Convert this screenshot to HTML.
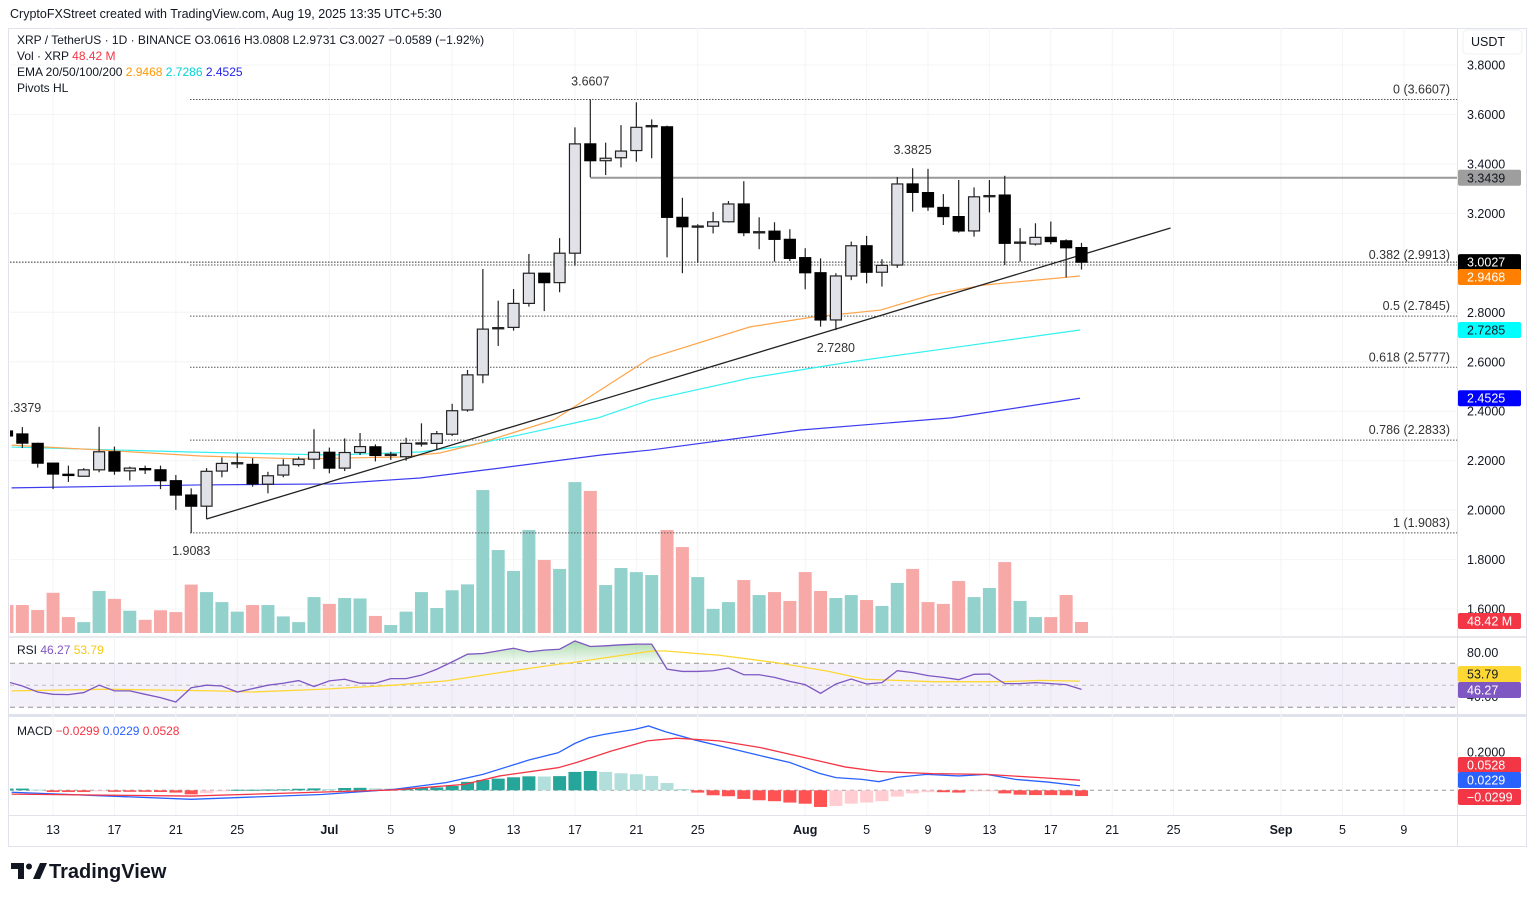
<!DOCTYPE html>
<html><head><meta charset="utf-8">
<style>
body{margin:0;background:#fff;width:1536px;height:899px;overflow:hidden;font-family:"Liberation Sans",sans-serif}
svg{display:block}
text{font-family:"Liberation Sans",sans-serif}
</style></head>
<body>
<svg id="chart" width="1536" height="899" viewBox="0 0 1536 899"></svg>
<script>
// ---- data (index 0 = Jun 10, partial candle at left edge) ----
const dateLabels = ["13","17","21","25","Jul","5","9","13","17","21","25","Aug","5","9","13","17","21","25","Sep","5","9"];
const dateIdx = [3,7,11,15,21,25,29,33,37,41,45,52,56,60,64,68,72,76,83,87,91];
const priceTicks = [3.8,3.6,3.4,3.2,3.0,2.8,2.6,2.4,2.2,2.0,1.8,1.6];
const opens = [2.32,2.308,2.270,2.190,2.145,2.137,2.163,2.236,2.159,2.168,2.163,2.119,2.061,2.016,2.158,2.19,2.185,2.105,2.142,2.184,2.206,2.234,2.17,2.233,2.256,2.224,2.216,2.27,2.27,2.307,2.405,2.547,2.735,2.739,2.836,2.958,2.92,3.039,3.481,3.413,3.425,3.454,3.552,3.55,3.184,3.146,3.148,3.166,3.238,3.124,3.128,3.095,3.021,2.96,2.769,2.947,3.069,2.962,2.991,3.319,3.284,3.224,3.187,3.129,3.27,3.274,3.082,3.076,3.103,3.089,3.0616];
const highs = [2.3379,2.336,2.273,2.19,2.18,2.17,2.337,2.257,2.176,2.18,2.18,2.142,2.088,2.17,2.213,2.23,2.21,2.155,2.206,2.216,2.327,2.253,2.29,2.312,2.266,2.236,2.293,2.351,2.32,2.43,2.567,2.975,2.847,2.894,3.036,2.958,3.10,3.548,3.6607,3.486,3.557,3.649,3.58,3.555,3.263,3.156,3.206,3.25,3.33,3.184,3.164,3.136,3.059,3.018,2.958,3.086,3.109,3.015,3.347,3.3825,3.38,3.278,3.335,3.305,3.335,3.352,3.14,3.16,3.167,3.095,3.0808];
const lows = [2.29,2.251,2.172,2.085,2.114,2.137,2.153,2.143,2.12,2.146,2.085,2.001,1.9083,1.964,2.133,2.17,2.095,2.068,2.133,2.176,2.166,2.149,2.158,2.223,2.197,2.203,2.20,2.257,2.245,2.30,2.398,2.513,2.664,2.726,2.823,2.805,2.881,2.988,3.346,3.355,3.386,3.409,3.423,3.022,2.958,3.00,3.119,3.163,3.108,3.055,3.005,3.007,2.893,2.742,2.728,2.93,2.917,2.904,2.98,3.207,3.21,3.153,3.122,3.106,3.204,2.991,3.005,3.07,3.075,2.941,2.9731];
const closes = [2.30,2.271,2.190,2.146,2.142,2.163,2.236,2.158,2.17,2.166,2.119,2.061,2.016,2.157,2.189,2.192,2.106,2.139,2.182,2.206,2.234,2.17,2.233,2.257,2.221,2.226,2.27,2.272,2.309,2.402,2.547,2.732,2.738,2.836,2.958,2.92,3.039,3.481,3.413,3.423,3.452,3.548,3.555,3.184,3.146,3.149,3.166,3.238,3.122,3.126,3.095,3.018,2.96,2.769,2.947,3.069,2.962,2.99,3.319,3.285,3.226,3.187,3.129,3.267,3.272,3.079,3.084,3.103,3.086,3.061,3.0027];
const volumes = [123,123,101,177,70,48,185,150,98,58,100,92,213,180,136,94,123,123,73,48,158,128,154,152,75,35,94,180,110,188,214,629,365,273,453,321,282,664,625,211,286,268,255,453,378,246,106,136,233,167,180,141,268,185,154,167,145,119,220,282,136,128,229,158,198,312,141,70,70,167,48.42];
const rsi = [53.3,49.4,43.9,41.8,41.5,43.4,50.1,44.9,44.9,41.8,38.8,34.8,47.8,50.1,49.4,43.9,47,50.1,51.9,54.3,48.9,54,55.5,51.9,51.9,56.1,56.1,59.2,64.6,71.3,78.3,78.9,81.3,83.7,80.4,82.0,82.8,90.3,85.3,85.9,86.8,87.4,87.4,64.7,62.6,62.6,63.2,65.7,59.6,59.6,57.2,53.6,50.6,42.7,51.2,55.7,51.2,52.4,63.3,61.5,58.8,57.2,55.1,60,60.3,51.5,51.5,52.4,51.5,50.6,46.27];
const rsiMaIdx = [0.3,6.5,13.5,16,20.5,25.2,28.6,32.1,35.9,36.8,42,42.9,46.4,50.1,53.4,55.9,60.3,65,67.3,69.9];
const rsiMa = [44.9,46.4,44.9,43.9,46.4,50.1,54,61.5,69.1,70.6,81.2,81.2,77.3,70.6,63,55.5,53.3,53.3,54.5,53.79];
const macdHist = [0.009,0.009,0.004,-0.009,-0.009,-0.009,-0.004,-0.008,-0.008,-0.008,-0.009,-0.012,-0.021,-0.015,-0.005,0.003,0.003,0.004,0.005,0.008,0.01,0.007,0.012,0.013,0.01,0.009,0.012,0.013,0.015,0.023,0.044,0.054,0.061,0.068,0.073,0.072,0.074,0.096,0.101,0.096,0.089,0.084,0.075,0.038,0.007,-0.012,-0.026,-0.031,-0.045,-0.052,-0.057,-0.064,-0.07,-0.087,-0.082,-0.07,-0.064,-0.057,-0.033,-0.016,-0.01,-0.01,-0.012,-0.005,-0.002,-0.016,-0.023,-0.025,-0.025,-0.026,-0.0299];
const macdIdx = [0.3,12,20.5,25.2,28.6,31,34,35.9,37,37.9,38.9,40.9,41.8,42.9,44.8,46.9,48.7,51,52.9,54,55.7,56.8,58,59.9,62,63.8,65.7,67.8,69.9];
const macdLine = [-0.01,-0.047,-0.022,0.005,0.04,0.083,0.158,0.196,0.245,0.275,0.292,0.318,0.336,0.306,0.263,0.223,0.188,0.145,0.089,0.066,0.057,0.045,0.068,0.083,0.075,0.083,0.057,0.043,0.0229];
const sigIdx = [0.3,12,25.2,29.8,32.1,35.9,37.1,39.4,41.7,43.6,46.4,49.1,51.5,54.6,56.8,60.3,63.8,67.3,69.9];
const sigLine = [-0.02,-0.03,0.002,0.031,0.075,0.118,0.145,0.206,0.258,0.272,0.258,0.223,0.179,0.122,0.098,0.087,0.083,0.066,0.0528];
const ema20Idx = [0.3,6.1,12.6,19.1,25.6,28.2,30.8,35.6,41.9,48.4,52.5,56.9,60.2,63.6,69.9];
const ema20 = [2.263,2.243,2.219,2.207,2.215,2.231,2.271,2.364,2.615,2.741,2.781,2.809,2.870,2.910,2.9468];
const ema50Idx = [0.3,11.9,21.1,26.9,30.2,33.4,38.5,41.9,48.4,54.9,61.5,69.9];
const ema50 = [2.255,2.235,2.223,2.235,2.263,2.304,2.373,2.445,2.534,2.599,2.656,2.7285];
const ema200Idx = [0.3,12.6,21.1,26.9,32.1,38.7,41.9,51.7,61.5,69.9];
const ema200 = [2.090,2.102,2.106,2.130,2.170,2.223,2.243,2.324,2.373,2.4525];
const trendIdx = [13,75.8];
const trendPrice = [1.964,3.141];
const fibHigh = 3.6607, fibLow = 1.9083;
const fibRatios = [0,0.382,0.5,0.618,0.786,1];
const resistance = 3.3439;
const lastPrice = 3.0027;

// ---- axes ----
const X = i => 7 + i*15.35;
const Y = p => 65 + (3.8-p)*247.3;
const YV = v => 633 - v/4.4;
const YR = r => 685.3 - (r-50)*1.1;
const YM = m => 790.3 - m*191.5;

const NS = "http://www.w3.org/2000/svg";
const svg = document.getElementById('chart');
function mk(tag, attrs, parent){const e=document.createElementNS(NS,tag);for(const k in attrs)e.setAttribute(k,attrs[k]);(parent||svg).appendChild(e);return e;}
function tx(str, x, y, attrs, parent){const e=mk('text',Object.assign({x:x,y:y,'font-size':12,fill:'#131722'},attrs||{}),parent);e.textContent=str;return e;}
const f2 = v => v.toFixed(4);

const defs = mk('defs',{});
const cp = mk('clipPath',{id:'mainclip'},defs); mk('rect',{x:10,y:28,width:1447,height:608},cp);
const cp2 = mk('clipPath',{id:'subclip'},defs); mk('rect',{x:10,y:638,width:1447,height:177},cp2);
const gr = mk('linearGradient',{id:'rsigreen',x1:0,y1:0,x2:0,y2:1},defs);
mk('stop',{offset:'0','stop-color':'#4caf50','stop-opacity':'0.45'},gr);
mk('stop',{offset:'1','stop-color':'#4caf50','stop-opacity':'0.05'},gr);

let t = tx('CryptoFXStreet created with TradingView.com, Aug 19, 2025 13:35 UTC+5:30',10,18,{'font-size':12.5});



let fr = mk('rect',{x:8.5,y:28.5,width:1518,height:818,fill:'none',stroke:'#e0e3eb'});


let sep = mk('line',{x1:1457.5,y1:28,x2:1457.5,y2:846,stroke:'#e0e3eb'});


let p1 = mk('line',{x1:9,y1:637,x2:1526,y2:637,stroke:'#d1d4dc'});


let p2 = mk('line',{x1:9,y1:715.5,x2:1526,y2:715.5,stroke:'#e0e3eb','stroke-width':3});


let p3 = mk('line',{x1:9,y1:815.5,x2:1526,y2:815.5,stroke:'#e0e3eb'});



for (let i=0;i<dateIdx.length;i++){
  const gl = mk('line',{x1:X(dateIdx[i]),y1:28,x2:X(dateIdx[i]),y2:815,stroke:'#f3f4f6'});
  
  
  const bold = dateLabels[i]==='Jul'||dateLabels[i]==='Aug'||dateLabels[i]==='Sep';
  const lb = tx(dateLabels[i],X(dateIdx[i]),834,{'text-anchor':'middle','font-size':12.5,'font-weight':bold?'bold':'normal'});
  
  
}
for (const p of priceTicks){
  const gl = mk('line',{x1:10,y1:Y(p),x2:1457,y2:Y(p),stroke:'#f3f4f6'});
  
  
  const lb = tx(p.toFixed(4),1467,Y(p)+4.5,{'font-size':12.5});
  
  
}
let usd = mk('rect',{x:1463,y:30,width:59,height:24,rx:4,fill:'#fff',stroke:'#eef0f3'});


t = tx('USDT',1471,46,{'font-size':12.5});



const main = mk('g',{'clip-path':'url(#mainclip)'});



for (let i=0;i<volumes.length;i++){
  const up = closes[i]>=opens[i];
  const r = mk('rect',{x:X(i)-6.5,y:YV(volumes[i]),width:13,height:633-YV(volumes[i]),fill:up?'#93d2cc':'#f7a9a7'},main);
  
  
}

for (const r of fibRatios){
  const p = fibHigh - (fibHigh-fibLow)*r;
  const l = mk('line',{x1:190,y1:Y(p),x2:1457,y2:Y(p),stroke:'#555','stroke-dasharray':'1.5 1.5'},main);
  
  
  const lb = tx(r+' ('+p.toFixed(4)+')',1450,Y(p)-6,{'text-anchor':'end','font-size':12.5,fill:'#333'},main);
  
  
}
let lp = mk('line',{x1:10,y1:Y(lastPrice),x2:1457,y2:Y(lastPrice),stroke:'#333','stroke-dasharray':'1.5 1.5'},main);


let rs = mk('line',{x1:X(38),y1:Y(resistance),x2:1457,y2:Y(resistance),stroke:'#999','stroke-width':2},main);



function poly(idx, vals, col, w){
  const pts = idx.map((d,k)=>X(d)+','+Y(vals[k])).join(' ');
  return mk('polyline',{points:pts,fill:'none',stroke:col,'stroke-width':w},main);
}
let e200 = poly(ema200Idx,ema200,'#3c3cf0',1.2);


let e50 = poly(ema50Idx,ema50,'#35f0f0',1.2);


let e20 = poly(ema20Idx,ema20,'#ffa54c',1.2);


let tl = mk('line',{x1:X(trendIdx[0]),y1:Y(trendPrice[0]),x2:X(trendIdx[1]),y2:Y(trendPrice[1]),stroke:'#222','stroke-width':1.3},main);



for (let i=0;i<opens.length;i++){
  const up = closes[i]>=opens[i];
  const w = mk('line',{x1:X(i),y1:Y(highs[i]),x2:X(i),y2:Y(lows[i]),stroke:'#222','stroke-width':1.2},main);
  
  
  const top = Y(Math.max(opens[i],closes[i])), bot = Y(Math.min(opens[i],closes[i]));
  const b = mk('rect',{x:X(i)-5.5,y:top,width:11,height:Math.max(bot-top,1.2),fill:up?'#e1e2e8':'#000',stroke:up?'#222':'#000','stroke-width':1.2},main);
  
  
}
const pivots = [[38,3.6607,'3.6607',-14],[59,3.3825,'3.3825',-14],[54,2.728,'2.7280',22],[12,1.9083,'1.9083',22]];
for (const pv of pivots){
  const lb = tx(pv[2],X(pv[0]),Y(pv[1])+pv[3],{'text-anchor':'middle','font-size':12.5,fill:'#333'},main);
  
  
}
t = tx('2.3379',3,412,{'font-size':12.5,fill:'#333'},main);



const leg = [
 [40,[['XRP / TetherUS · 1D · BINANCE  ','#131722'],['O3.0616 H3.0808 L2.9731 C3.0027 −0.0589 (−1.92%)','#131722']]],
 [56,[['Vol · XRP  ','#131722'],['48.42 M','#f23645']]],
 [72,[['EMA 20/50/100/200  ','#131722'],['2.9468  ','#ff9800'],['2.7286  ','#00d4d4'],['2.4525','#2222ee']]],
 [88,[['Pivots HL','#131722']]]
];
for (const row of leg){
  const te = mk('text',{x:17,y:row[0]+4,'font-size':12});
  
  
  for (const s of row[1]){const ts=mk('tspan',{fill:s[1]},te);ts.textContent=s[0];}
}

function badge(y,h,bg,fg,lines){
  const g = mk('g',{});
  mk('rect',{x:1458,y:y,width:63,height:h,rx:2,fill:bg},g);
  lines.forEach((s,k)=>tx(s,1467,y+12.5+k*14,{fill:fg,'font-size':12.5},g));
  return g;
}
let bg;
bg = badge(Y(resistance)-8,16,'#9e9e9e','#131722',[f2(resistance)]);


bg = badge(Y(lastPrice)-8,30,'#000','#fff',[f2(lastPrice),'15:54:35']);


bg = badge(Y(ema20[ema20.length-1])-7,16,'#ff7f00','#fff',[f2(ema20[ema20.length-1])]);


bg = badge(Y(ema50[ema50.length-1])-8,16,'#00ffff','#131722',[f2(ema50[ema50.length-1])]);


bg = badge(Y(ema200[ema200.length-1])-8,16,'#0000ff','#fff',[f2(ema200[ema200.length-1])]);


bg = badge(613,16,'#f23645','#fff',['48.42 M']);



// ---- RSI pane ----
const sub = mk('g',{'clip-path':'url(#subclip)'});


let band = mk('rect',{x:10,y:YR(70),width:1447,height:YR(30)-YR(70),fill:'#7e57c2','fill-opacity':0.09},sub);


for (const lv of [70,50,30]){
  const l = mk('line',{x1:10,y1:YR(lv),x2:1457,y2:YR(lv),stroke:'#888','stroke-dasharray':lv===50?'4 4':'5 4','stroke-opacity':lv===50?0.5:0.9},sub);
  
  
}
let ob = '';
for (let i=0;i<rsi.length;i++){ ob += (i?' L':'M')+X(i)+','+Math.min(YR(rsi[i]),YR(70)); }
ob += ' L'+X(rsi.length-1)+','+YR(70)+' L'+X(0)+','+YR(70)+' Z';
let obp = mk('path',{d:ob,fill:'url(#rsigreen)'},sub);


let rma = mk('polyline',{points:rsiMaIdx.map((d,k)=>X(d)+','+YR(rsiMa[k])).join(' '),fill:'none',stroke:'#fdd835','stroke-width':1.3},sub);


let rl = mk('polyline',{points:rsi.map((v,k)=>X(k)+','+YR(v)).join(' '),fill:'none',stroke:'#7e57c2','stroke-width':1.3},sub);


t = mk('text',{x:17,y:654,'font-size':12});


[['RSI  ','#131722'],['46.27  ','#7e57c2'],['53.79','#f9c80e']].forEach(s=>{const ts=mk('tspan',{fill:s[1]},t);ts.textContent=s[0];});
t = tx('80.00',1467,YR(80)+4.5,{'font-size':12.5});


t = tx('40.00',1467,YR(40)+4.5,{'font-size':12.5});


bg = badge(666,16,'#fdd835','#131722',[rsiMa[rsiMa.length-1].toFixed(2)]);


bg = badge(682,16,'#7e57c2','#fff',[rsi[rsi.length-1].toFixed(2)]);



// ---- MACD pane ----
let z = mk('line',{x1:10,y1:YM(0),x2:1457,y2:YM(0),stroke:'#999','stroke-dasharray':'4 4'},sub);


for (let i=0;i<macdHist.length;i++){
  const v = macdHist[i], prev = i? macdHist[i-1] : v;
  let col;
  if (v>=0) col = v>=prev ? '#26a69a' : '#b2dfdb'; else col = v<=prev ? '#ff5252' : '#ffcdd2';
  const y0 = Math.min(YM(0),YM(v)), h = Math.max(Math.abs(YM(v)-YM(0)),1);
  const r = mk('rect',{x:X(i)-6.5,y:y0,width:13,height:h,fill:col},sub);
  
  
}
let ml = mk('polyline',{points:macdIdx.map((d,k)=>X(d)+','+YM(macdLine[k])).join(' '),fill:'none',stroke:'#2962ff','stroke-width':1.3},sub);


let sl = mk('polyline',{points:sigIdx.map((d,k)=>X(d)+','+YM(sigLine[k])).join(' '),fill:'none',stroke:'#f23645','stroke-width':1.3},sub);


t = mk('text',{x:17,y:735,'font-size':12});


[['MACD  ','#131722'],['−0.0299  ','#f23645'],['0.0229  ','#2962ff'],['0.0528','#f23645']].forEach(s=>{const ts=mk('tspan',{fill:s[1]},t);ts.textContent=s[0];});
t = tx('0.2000',1467,YM(0.2)+4.5,{'font-size':12.5});


bg = badge(757,16,'#f23645','#fff',['0.0528']);


bg = badge(772,16,'#2962ff','#fff',['0.0229']);


bg = badge(789,16,'#f23645','#fff',['−0.0299']);



const lg = mk('g',{});


mk('path',{d:'M11 863 h13 v16 h-6 v-10 h-7 Z',fill:'#131722'},lg);
mk('circle',{cx:29,cy:866.5,r:3,fill:'#131722'},lg);
mk('path',{d:'M33 879 l7 -16 h7 l-7 16 Z',fill:'#131722'},lg);
t = tx('TradingView',49,878,{'font-size':20,'font-weight':'bold'},lg);


</script>
</body></html>
